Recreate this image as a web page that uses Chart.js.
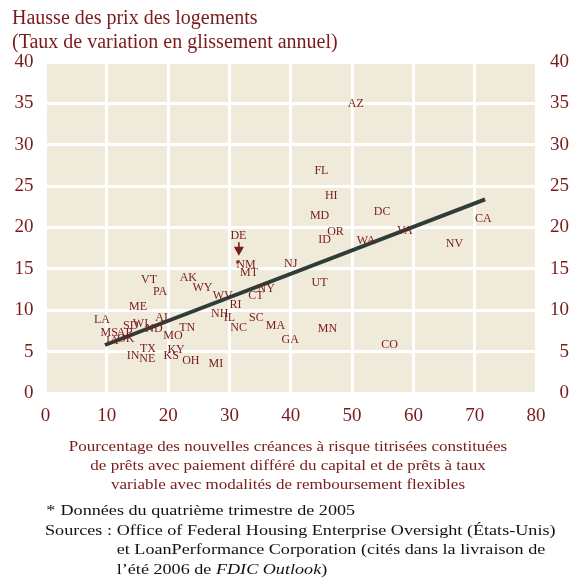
<!DOCTYPE html>
<html><head><meta charset="utf-8">
<script src="https://cdn.jsdelivr.net/npm/chart.js@4"></script>
<style>
html,body{margin:0;padding:0;background:#fff;}
#wrap{position:relative;width:569px;height:578px;overflow:hidden;font-family:"Liberation Serif","DejaVu Serif",serif;}
#c{position:absolute;left:0;top:0;}
#title{position:absolute;left:12px;top:6px;color:#7a1a1a;font-size:20px;line-height:23.5px;white-space:nowrap;}
#caption{position:absolute;left:0;top:436.5px;width:576px;text-align:center;color:#7a1a1a;font-size:15px;line-height:19px;white-space:nowrap;transform:scaleX(1.135);transform-origin:288px 0;}
#notes{position:absolute;left:45px;top:500px;color:#111;font-size:15.5px;line-height:19.5px;white-space:nowrap;transform:scaleX(1.17);transform-origin:0 0;}
.row{display:flex;}
.lab{width:61.3px;flex:none;}
</style></head>
<body>
<div id="wrap">
<canvas id="c" width="569" height="578"></canvas>
<div id="title">Hausse des prix des logements<br>(Taux de variation en glissement annuel)</div>
<div id="caption"></div>
<div id="notes">
<div class="row"><span style="padding-left:1px">*</span><span style="padding-left:4.5px">Données du quatrième trimestre de 2005</span></div>
<div class="row"><span class="lab">Sources :</span><span>Office of Federal Housing Enterprise Oversight (États-Unis)<br>et LoanPerformance Corporation (cités dans la livraison de<br>l’été 2006 de <i>FDIC Outlook</i>)</span></div>
</div>
</div>
<script>
const states = ['AZ','FL','HI','MD','DC','CA','OR','ID','WA','VA','NV','NJ','UT','MN','GA','CO','DE','NM','MT','AK','WY','WV','NY','CT','RI','NH','IL','SC','MA','NC','TN','OH','MI','VT','PA','ME','LA','AL','SD','WI','ND','MS','AR','IA','OK','MO','TX','KY','IN','NE','KS'];
const shareRisky = [50.6,45.0,46.6,44.7,54.9,71.4,47.3,45.5,52.3,58.6,66.7,40.0,44.7,46.0,39.9,56.1,31.3,32.7,33.2,23.3,25.6,28.9,36.0,34.3,31.0,28.4,30.0,34.4,37.5,31.5,23.1,23.7,27.8,16.9,18.7,15.1,9.2,19.2,13.9,15.5,17.7,10.4,13.0,10.9,13.1,20.8,16.7,21.3,14.3,16.6,20.5];
const priceGrowth = [35.0,26.9,23.8,21.4,21.9,21.1,19.5,18.5,18.4,19.6,18.0,15.6,13.3,7.8,6.4,5.8,15.8,15.5,14.5,13.9,12.7,11.7,12.6,11.7,10.7,9.6,9.1,9.1,8.1,7.9,7.9,3.9,3.5,13.7,12.2,10.4,8.9,9.1,8.1,8.3,7.8,7.3,7.3,6.3,6.5,6.9,5.3,5.2,4.5,4.1,4.5];
const arrowStates = ['DE'];
const trendX = [9.7, 71.7];
const trendY = [5.8, 23.4];
const xTicks = [0,10,20,30,40,50,60,70,80];
const yTicks = [0,5,10,15,20,25,30,35,40];
const xAxisTitle = ['Pourcentage des nouvelles créances à risque titrisées constituées','de prêts avec paiement différé du capital et de prêts à taux','variable avec modalités de remboursement flexibles'];

document.getElementById('caption').innerHTML = xAxisTitle.join('<br>');

const RED = '#7a1a1a';
const SERIF = "'Liberation Serif','DejaVu Serif',serif";

const bgPlugin = {
  id:'bg',
  beforeDraw(chart){
    const {ctx, chartArea:a} = chart;
    ctx.save(); ctx.fillStyle = '#efead9';
    ctx.fillRect(a.left-1, a.top, a.right-a.left, a.bottom-a.top);
    ctx.restore();
  }
};
const labelPlugin = {
  id:'stlabels',
  afterDatasetsDraw(chart){
    const {ctx, scales:{x,y}} = chart;
    ctx.save();
    ctx.fillStyle = RED; ctx.strokeStyle = RED;
    ctx.font = "12px " + SERIF;
    ctx.textAlign = 'center'; ctx.textBaseline = 'middle';
    states.forEach((s,i)=>{
      const px = x.getPixelForValue(shareRisky[i]);
      const py = y.getPixelForValue(priceGrowth[i]);
      if (arrowStates.includes(s)) {
        ctx.beginPath(); ctx.arc(px, py, 1.3, 0, Math.PI*2); ctx.fill();
        ctx.fillText(s, px+1, py-26);
        ctx.lineWidth = 1.6;
        ctx.beginPath(); ctx.moveTo(px+1.5, py-20); ctx.lineTo(px+1.5, py-14); ctx.stroke();
        ctx.beginPath(); ctx.moveTo(px-3.5, py-15.5); ctx.lineTo(px+6.5, py-15.5); ctx.lineTo(px+1.5, py-6.5); ctx.closePath(); ctx.fill();
      } else {
        ctx.fillText(s, px, py);
      }
    });
    ctx.restore();
  }
};

new Chart(document.getElementById('c'), {
  type:'scatter',
  data:{
    datasets:[
      {type:'line', data: trendX.map((v,i)=>({x:v,y:trendY[i]})), borderColor:'#2f3c38', borderWidth:4, pointRadius:0, fill:false, borderCapStyle:'butt', order:2},
      {data: states.map((s,i)=>({x:shareRisky[i], y:priceGrowth[i]})), pointRadius:0, order:1}
    ]
  },
  plugins:[bgPlugin, labelPlugin],
  options:{
    responsive:false, animation:false, events:[],
    layout:{padding:{top:62,left:0,right:0,bottom:83}},
    plugins:{legend:{display:false}, tooltip:{enabled:false}},
    scales:{
      x:{type:'linear', min:0, max:80, position:'bottom',
        afterBuildTicks(s){ s.ticks = xTicks.map(v=>({value:v})); },
        afterFit(s){ s.height = 102; },
        grid:{color:'#ffffff', lineWidth:3, drawTicks:false},
        border:{display:false},
        ticks:{color:RED, font:{family:SERIF, size:19}, padding:12, maxRotation:0}
      },
      y:{type:'linear', min:0, max:40, position:'left',
        afterBuildTicks(s){ s.ticks = yTicks.map(v=>({value:v})); },
        afterFit(s){ s.width = 45.5; },
        grid:{color:'#ffffff', lineWidth:3, drawTicks:false},
        border:{display:false},
        ticks:{color:RED, font:{family:SERIF, size:19}, padding:12}
      },
      y2:{type:'linear', min:0, max:40, position:'right',
        afterBuildTicks(s){ s.ticks = yTicks.map(v=>({value:v})); },
        afterFit(s){ s.width = 33; },
        grid:{display:false, drawTicks:false},
        border:{display:false},
        ticks:{color:RED, font:{family:SERIF, size:19}, padding:13, crossAlign:'far'}
      }
    }
  }
});
</script>
</body></html>
